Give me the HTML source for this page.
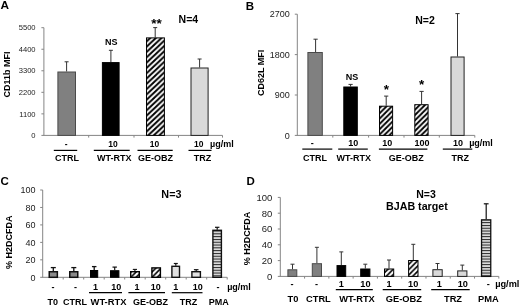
<!DOCTYPE html>
<html lang="en"><head><meta charset="utf-8"><title>Figure</title>
<style>
html,body{margin:0;padding:0;background:#fff;}
body{width:520px;height:306px;overflow:hidden;}
svg{display:block;font-family:"Liberation Sans", Arial, sans-serif;filter:blur(0.35px);}
</style></head>
<body>
<svg width="520" height="306" viewBox="0 0 520 306">
<rect width="520" height="306" fill="#fff"/>
<defs><pattern id="hA" patternUnits="userSpaceOnUse" width="5.6" height="5.3"><rect width="5.6" height="5.3" fill="#fff"/><path d="M-11.200 10.600 L5.600 -5.300 M-5.600 10.600 L11.200 -5.300 M0.000 10.600 L16.800 -5.300" stroke="#000" stroke-width="1.95"/></pattern><pattern id="hB" patternUnits="userSpaceOnUse" width="5.3" height="5.3"><rect width="5.3" height="5.3" fill="#fff"/><path d="M-10.600 10.600 L5.300 -5.300 M-5.300 10.600 L10.600 -5.300 M0.000 10.600 L15.900 -5.300" stroke="#000" stroke-width="1.9"/></pattern><pattern id="hC" patternUnits="userSpaceOnUse" width="5.3" height="5.3"><rect width="5.3" height="5.3" fill="#fff"/><path d="M-10.600 10.600 L5.300 -5.300 M-5.300 10.600 L10.600 -5.300 M0.000 10.600 L15.900 -5.300" stroke="#000" stroke-width="1.65"/></pattern>
<pattern id="hH" patternUnits="userSpaceOnUse" width="2.8" height="2.8">
<rect width="2.8" height="2.8" fill="#fff"/>
<rect y="0.8" width="2.8" height="1.3" fill="#262626"/>
</pattern>
</defs>
<text x="0.40" y="9.30" font-size="11.8" font-weight="bold" text-anchor="start" fill="#000">A</text>
<line x1="43.90" y1="27.70" x2="43.90" y2="135.40" stroke="#858585" stroke-width="1"/>
<line x1="41.40" y1="27.70" x2="43.90" y2="27.70" stroke="#858585" stroke-width="1"/>
<text x="35.60" y="30.40" font-size="7.6" font-weight="normal" text-anchor="end" fill="#222">5500</text>
<line x1="41.40" y1="49.24" x2="43.90" y2="49.24" stroke="#858585" stroke-width="1"/>
<text x="35.60" y="51.94" font-size="7.6" font-weight="normal" text-anchor="end" fill="#222">4400</text>
<line x1="41.40" y1="70.78" x2="43.90" y2="70.78" stroke="#858585" stroke-width="1"/>
<text x="35.60" y="73.48" font-size="7.6" font-weight="normal" text-anchor="end" fill="#222">3300</text>
<line x1="41.40" y1="92.32" x2="43.90" y2="92.32" stroke="#858585" stroke-width="1"/>
<text x="35.60" y="95.02" font-size="7.6" font-weight="normal" text-anchor="end" fill="#222">2200</text>
<line x1="41.40" y1="113.86" x2="43.90" y2="113.86" stroke="#858585" stroke-width="1"/>
<text x="35.60" y="116.56" font-size="7.6" font-weight="normal" text-anchor="end" fill="#222">1100</text>
<line x1="41.40" y1="135.40" x2="43.90" y2="135.40" stroke="#858585" stroke-width="1"/>
<text x="35.60" y="138.10" font-size="7.6" font-weight="normal" text-anchor="end" fill="#222">0</text>
<line x1="43.40" y1="135.40" x2="222.50" y2="135.40" stroke="#858585" stroke-width="1"/>
<line x1="88.70" y1="135.40" x2="88.70" y2="137.60" stroke="#858585" stroke-width="1"/>
<line x1="134.00" y1="135.40" x2="134.00" y2="137.60" stroke="#858585" stroke-width="1"/>
<line x1="178.50" y1="135.40" x2="178.50" y2="137.60" stroke="#858585" stroke-width="1"/>
<line x1="222.50" y1="135.40" x2="222.50" y2="137.60" stroke="#858585" stroke-width="1"/>
<text x="10.50" y="74.40" font-size="9" font-weight="bold" text-anchor="middle" fill="#000" transform="rotate(-90 10.50 74.40)">CD11b MFI</text>
<line x1="66.60" y1="61.80" x2="66.60" y2="71.50" stroke="#333" stroke-width="1"/>
<line x1="64.60" y1="61.80" x2="68.60" y2="61.80" stroke="#333" stroke-width="1"/>
<rect x="57.90" y="72.00" width="17.60" height="63.40" fill="#808080" stroke="#4a4a4a" stroke-width="1"/>
<line x1="110.90" y1="50.30" x2="110.90" y2="62.10" stroke="#333" stroke-width="1"/>
<line x1="108.90" y1="50.30" x2="112.90" y2="50.30" stroke="#333" stroke-width="1"/>
<rect x="102.40" y="62.60" width="16.70" height="72.80" fill="#000" stroke="#000" stroke-width="1"/>
<line x1="155.20" y1="27.60" x2="155.20" y2="37.40" stroke="#333" stroke-width="1"/>
<line x1="153.20" y1="27.60" x2="157.20" y2="27.60" stroke="#333" stroke-width="1"/>
<rect x="146.50" y="37.90" width="17.90" height="97.50" fill="url(#hA)" stroke="#000" stroke-width="1"/>
<line x1="199.60" y1="59.00" x2="199.60" y2="67.50" stroke="#333" stroke-width="1"/>
<line x1="197.60" y1="59.00" x2="201.60" y2="59.00" stroke="#333" stroke-width="1"/>
<rect x="191.00" y="68.00" width="17.10" height="67.40" fill="#d9d9d9" stroke="#222" stroke-width="1"/>
<text x="111.20" y="45.20" font-size="9" font-weight="bold" text-anchor="middle" fill="#000">NS</text>
<text x="156.40" y="27.70" font-size="13.5" font-weight="bold" text-anchor="middle" fill="#000">**</text>
<text x="188.40" y="23.20" font-size="10.5" font-weight="bold" text-anchor="middle" fill="#000">N=4</text>
<text x="66.20" y="146.60" font-size="8.5" font-weight="bold" text-anchor="middle" fill="#000">-</text>
<text x="113.00" y="147.00" font-size="8.5" font-weight="bold" text-anchor="middle" fill="#000">10</text>
<text x="154.60" y="147.00" font-size="8.5" font-weight="bold" text-anchor="middle" fill="#000">10</text>
<text x="198.80" y="147.00" font-size="8.5" font-weight="bold" text-anchor="middle" fill="#000">10</text>
<text x="221.80" y="147.00" font-size="9" font-weight="bold" text-anchor="middle" fill="#000">µg/ml</text>
<line x1="53.80" y1="150.40" x2="77.20" y2="150.40" stroke="#000" stroke-width="1.2"/>
<line x1="93.80" y1="150.40" x2="129.70" y2="150.40" stroke="#000" stroke-width="1.2"/>
<line x1="137.50" y1="150.40" x2="172.70" y2="150.40" stroke="#000" stroke-width="1.2"/>
<line x1="188.50" y1="150.40" x2="211.50" y2="150.40" stroke="#000" stroke-width="1.2"/>
<text x="67.00" y="160.60" font-size="9" font-weight="bold" text-anchor="middle" fill="#000">CTRL</text>
<text x="114.20" y="160.60" font-size="9" font-weight="bold" text-anchor="middle" fill="#000">WT-RTX</text>
<text x="155.50" y="160.60" font-size="9" font-weight="bold" text-anchor="middle" fill="#000">GE-OBZ</text>
<text x="202.50" y="160.60" font-size="9" font-weight="bold" text-anchor="middle" fill="#000">TRZ</text>
<text x="245.80" y="10.30" font-size="11.5" font-weight="bold" text-anchor="start" fill="#000">B</text>
<line x1="297.30" y1="14.20" x2="297.30" y2="135.40" stroke="#858585" stroke-width="1"/>
<line x1="294.80" y1="14.20" x2="297.30" y2="14.20" stroke="#858585" stroke-width="1"/>
<text x="289.80" y="17.40" font-size="9" font-weight="normal" text-anchor="end" fill="#222">2700</text>
<line x1="294.80" y1="54.60" x2="297.30" y2="54.60" stroke="#858585" stroke-width="1"/>
<text x="289.80" y="57.80" font-size="9" font-weight="normal" text-anchor="end" fill="#222">1800</text>
<line x1="294.80" y1="95.00" x2="297.30" y2="95.00" stroke="#858585" stroke-width="1"/>
<text x="289.80" y="98.20" font-size="9" font-weight="normal" text-anchor="end" fill="#222">900</text>
<line x1="294.80" y1="135.40" x2="297.30" y2="135.40" stroke="#858585" stroke-width="1"/>
<text x="289.80" y="138.60" font-size="9" font-weight="normal" text-anchor="end" fill="#222">0</text>
<line x1="296.80" y1="135.40" x2="474.80" y2="135.40" stroke="#858585" stroke-width="1"/>
<line x1="332.80" y1="135.40" x2="332.80" y2="137.60" stroke="#858585" stroke-width="1"/>
<line x1="368.60" y1="135.40" x2="368.60" y2="137.60" stroke="#858585" stroke-width="1"/>
<line x1="404.00" y1="135.40" x2="404.00" y2="137.60" stroke="#858585" stroke-width="1"/>
<line x1="439.30" y1="135.40" x2="439.30" y2="137.60" stroke="#858585" stroke-width="1"/>
<line x1="474.80" y1="135.40" x2="474.80" y2="137.60" stroke="#858585" stroke-width="1"/>
<text x="264.00" y="72.80" font-size="9" font-weight="bold" text-anchor="middle" fill="#000" transform="rotate(-90 264.00 72.80)">CD62L MFI</text>
<line x1="315.60" y1="39.20" x2="315.60" y2="52.00" stroke="#333" stroke-width="1"/>
<line x1="313.50" y1="39.20" x2="317.70" y2="39.20" stroke="#333" stroke-width="1"/>
<rect x="307.90" y="52.50" width="14.40" height="82.90" fill="#808080" stroke="#4a4a4a" stroke-width="1"/>
<line x1="350.60" y1="84.40" x2="350.60" y2="86.50" stroke="#333" stroke-width="1"/>
<line x1="348.50" y1="84.40" x2="352.70" y2="84.40" stroke="#333" stroke-width="1"/>
<rect x="343.80" y="87.00" width="13.50" height="48.40" fill="#000" stroke="#000" stroke-width="1"/>
<line x1="386.20" y1="96.10" x2="386.20" y2="105.70" stroke="#333" stroke-width="1"/>
<line x1="384.10" y1="96.10" x2="388.30" y2="96.10" stroke="#333" stroke-width="1"/>
<rect x="379.50" y="106.20" width="13.10" height="29.20" fill="url(#hB)" stroke="#000" stroke-width="1"/>
<line x1="421.60" y1="91.40" x2="421.60" y2="104.20" stroke="#333" stroke-width="1"/>
<line x1="419.50" y1="91.40" x2="423.70" y2="91.40" stroke="#333" stroke-width="1"/>
<rect x="414.80" y="104.70" width="13.30" height="30.70" fill="url(#hB)" stroke="#000" stroke-width="1"/>
<line x1="457.50" y1="13.60" x2="457.50" y2="56.50" stroke="#333" stroke-width="1"/>
<line x1="455.40" y1="13.60" x2="459.60" y2="13.60" stroke="#333" stroke-width="1"/>
<rect x="451.00" y="57.00" width="13.10" height="78.40" fill="#d9d9d9" stroke="#222" stroke-width="1"/>
<text x="351.90" y="80.30" font-size="9" font-weight="bold" text-anchor="middle" fill="#000">NS</text>
<text x="386.30" y="94.00" font-size="13.5" font-weight="bold" text-anchor="middle" fill="#000">*</text>
<text x="421.70" y="88.80" font-size="13.5" font-weight="bold" text-anchor="middle" fill="#000">*</text>
<text x="425.00" y="23.60" font-size="10.5" font-weight="bold" text-anchor="middle" fill="#000">N=2</text>
<text x="312.20" y="146.00" font-size="9" font-weight="bold" text-anchor="middle" fill="#000">-</text>
<text x="353.20" y="146.30" font-size="9" font-weight="bold" text-anchor="middle" fill="#000">10</text>
<text x="387.30" y="146.30" font-size="9" font-weight="bold" text-anchor="middle" fill="#000">10</text>
<text x="422.00" y="146.30" font-size="9" font-weight="bold" text-anchor="middle" fill="#000">100</text>
<text x="458.00" y="146.30" font-size="9" font-weight="bold" text-anchor="middle" fill="#000">10</text>
<text x="481.00" y="146.30" font-size="9" font-weight="bold" text-anchor="middle" fill="#000">µg/ml</text>
<line x1="302.30" y1="149.10" x2="332.30" y2="149.10" stroke="#000" stroke-width="1.2"/>
<line x1="338.20" y1="149.10" x2="367.80" y2="149.10" stroke="#000" stroke-width="1.2"/>
<line x1="378.90" y1="149.10" x2="427.40" y2="149.10" stroke="#000" stroke-width="1.2"/>
<line x1="442.80" y1="149.10" x2="472.30" y2="149.10" stroke="#000" stroke-width="1.2"/>
<text x="315.00" y="161.40" font-size="9" font-weight="bold" text-anchor="middle" fill="#000">CTRL</text>
<text x="353.80" y="161.40" font-size="9" font-weight="bold" text-anchor="middle" fill="#000">WT-RTX</text>
<text x="406.20" y="161.40" font-size="9" font-weight="bold" text-anchor="middle" fill="#000">GE-OBZ</text>
<text x="460.20" y="161.40" font-size="9" font-weight="bold" text-anchor="middle" fill="#000">TRZ</text>
<text x="0.60" y="184.80" font-size="11.5" font-weight="bold" text-anchor="start" fill="#000">C</text>
<line x1="42.70" y1="190.00" x2="42.70" y2="277.30" stroke="#858585" stroke-width="1"/>
<line x1="40.20" y1="190.00" x2="42.70" y2="190.00" stroke="#858585" stroke-width="1"/>
<text x="35.50" y="193.20" font-size="9" font-weight="normal" text-anchor="end" fill="#222">100</text>
<line x1="40.20" y1="207.46" x2="42.70" y2="207.46" stroke="#858585" stroke-width="1"/>
<text x="35.50" y="210.66" font-size="9" font-weight="normal" text-anchor="end" fill="#222">80</text>
<line x1="40.20" y1="224.92" x2="42.70" y2="224.92" stroke="#858585" stroke-width="1"/>
<text x="35.50" y="228.12" font-size="9" font-weight="normal" text-anchor="end" fill="#222">60</text>
<line x1="40.20" y1="242.38" x2="42.70" y2="242.38" stroke="#858585" stroke-width="1"/>
<text x="35.50" y="245.58" font-size="9" font-weight="normal" text-anchor="end" fill="#222">40</text>
<line x1="40.20" y1="259.84" x2="42.70" y2="259.84" stroke="#858585" stroke-width="1"/>
<text x="35.50" y="263.04" font-size="9" font-weight="normal" text-anchor="end" fill="#222">20</text>
<line x1="40.20" y1="277.30" x2="42.70" y2="277.30" stroke="#858585" stroke-width="1"/>
<text x="35.50" y="280.50" font-size="9" font-weight="normal" text-anchor="end" fill="#222">0</text>
<line x1="42.20" y1="277.30" x2="227.20" y2="277.30" stroke="#858585" stroke-width="1"/>
<line x1="63.20" y1="277.30" x2="63.20" y2="279.50" stroke="#858585" stroke-width="1"/>
<line x1="83.70" y1="277.30" x2="83.70" y2="279.50" stroke="#858585" stroke-width="1"/>
<line x1="104.20" y1="277.30" x2="104.20" y2="279.50" stroke="#858585" stroke-width="1"/>
<line x1="124.70" y1="277.30" x2="124.70" y2="279.50" stroke="#858585" stroke-width="1"/>
<line x1="145.20" y1="277.30" x2="145.20" y2="279.50" stroke="#858585" stroke-width="1"/>
<line x1="165.70" y1="277.30" x2="165.70" y2="279.50" stroke="#858585" stroke-width="1"/>
<line x1="186.20" y1="277.30" x2="186.20" y2="279.50" stroke="#858585" stroke-width="1"/>
<line x1="206.70" y1="277.30" x2="206.70" y2="279.50" stroke="#858585" stroke-width="1"/>
<line x1="227.20" y1="277.30" x2="227.20" y2="279.50" stroke="#858585" stroke-width="1"/>
<text x="12.00" y="242.20" font-size="9" font-weight="bold" text-anchor="middle" fill="#000" transform="rotate(-90 12.00 242.20)">% H2DCFDA</text>
<line x1="53.30" y1="267.60" x2="53.30" y2="271.00" stroke="#111" stroke-width="1.3"/>
<line x1="50.80" y1="267.60" x2="55.80" y2="267.60" stroke="#111" stroke-width="1.3"/>
<rect x="49.25" y="271.75" width="8.10" height="5.55" fill="#8a8a8a" stroke="#111" stroke-width="1.5"/>
<line x1="73.80" y1="267.60" x2="73.80" y2="271.00" stroke="#111" stroke-width="1.3"/>
<line x1="71.30" y1="267.60" x2="76.30" y2="267.60" stroke="#111" stroke-width="1.3"/>
<rect x="69.75" y="271.75" width="8.00" height="5.55" fill="#8a8a8a" stroke="#111" stroke-width="1.5"/>
<line x1="94.20" y1="266.60" x2="94.20" y2="270.00" stroke="#111" stroke-width="1.3"/>
<line x1="91.95" y1="266.60" x2="96.45" y2="266.60" stroke="#111" stroke-width="1.3"/>
<rect x="90.50" y="270.50" width="7.20" height="6.80" fill="#000" stroke="#000" stroke-width="1"/>
<line x1="114.70" y1="267.10" x2="114.70" y2="270.20" stroke="#111" stroke-width="1.2"/>
<line x1="112.50" y1="267.10" x2="116.90" y2="267.10" stroke="#111" stroke-width="1.2"/>
<rect x="110.50" y="270.70" width="8.40" height="6.60" fill="#000" stroke="#000" stroke-width="1"/>
<line x1="134.90" y1="269.40" x2="134.90" y2="271.10" stroke="#111" stroke-width="1.1"/>
<line x1="132.80" y1="269.40" x2="137.00" y2="269.40" stroke="#111" stroke-width="1.1"/>
<rect x="130.70" y="271.70" width="8.60" height="5.60" fill="url(#hC)" stroke="#000" stroke-width="1.4"/>
<rect x="151.90" y="267.90" width="8.50" height="9.40" fill="url(#hC)" stroke="#000" stroke-width="1.4"/>
<line x1="175.80" y1="263.50" x2="175.80" y2="265.80" stroke="#111" stroke-width="1.2"/>
<line x1="173.80" y1="263.50" x2="177.80" y2="263.50" stroke="#111" stroke-width="1.2"/>
<rect x="171.90" y="266.30" width="7.60" height="11.00" fill="#e0e0e0" stroke="#111" stroke-width="1.4"/>
<line x1="196.20" y1="269.70" x2="196.20" y2="271.20" stroke="#111" stroke-width="1.2"/>
<line x1="193.90" y1="269.70" x2="198.50" y2="269.70" stroke="#111" stroke-width="1.2"/>
<rect x="191.90" y="271.70" width="8.50" height="5.60" fill="#e0e0e0" stroke="#111" stroke-width="1.4"/>
<line x1="217.20" y1="227.30" x2="217.20" y2="229.80" stroke="#111" stroke-width="1.2"/>
<line x1="215.00" y1="227.30" x2="219.40" y2="227.30" stroke="#111" stroke-width="1.2"/>
<rect x="212.90" y="230.30" width="8.50" height="47.00" fill="url(#hH)" stroke="#111" stroke-width="1.4"/>
<text x="171.40" y="198.00" font-size="10.8" font-weight="bold" text-anchor="middle" fill="#000">N=3</text>
<text x="53.10" y="290.00" font-size="9" font-weight="bold" text-anchor="middle" fill="#000">-</text>
<text x="75.50" y="290.00" font-size="9" font-weight="bold" text-anchor="middle" fill="#000">-</text>
<text x="95.40" y="290.10" font-size="9" font-weight="bold" text-anchor="middle" fill="#000">1</text>
<text x="116.20" y="290.10" font-size="9" font-weight="bold" text-anchor="middle" fill="#000">10</text>
<text x="136.90" y="290.10" font-size="9" font-weight="bold" text-anchor="middle" fill="#000">1</text>
<text x="155.70" y="290.10" font-size="9" font-weight="bold" text-anchor="middle" fill="#000">10</text>
<text x="175.80" y="290.10" font-size="9" font-weight="bold" text-anchor="middle" fill="#000">1</text>
<text x="197.70" y="290.10" font-size="9" font-weight="bold" text-anchor="middle" fill="#000">10</text>
<text x="218.00" y="290.00" font-size="9" font-weight="bold" text-anchor="middle" fill="#000">-</text>
<text x="239.00" y="290.20" font-size="9" font-weight="bold" text-anchor="middle" fill="#000">µg/ml</text>
<line x1="89.00" y1="292.70" x2="122.00" y2="292.70" stroke="#000" stroke-width="1.2"/>
<line x1="128.40" y1="292.70" x2="165.00" y2="292.70" stroke="#000" stroke-width="1.2"/>
<line x1="171.80" y1="292.70" x2="202.50" y2="292.70" stroke="#000" stroke-width="1.2"/>
<text x="52.70" y="304.80" font-size="9" font-weight="bold" text-anchor="middle" fill="#000">T0</text>
<text x="74.90" y="304.80" font-size="9" font-weight="bold" text-anchor="middle" fill="#000">CTRL</text>
<text x="108.50" y="304.80" font-size="9.4" font-weight="bold" text-anchor="middle" fill="#000">WT-RTX</text>
<text x="150.60" y="304.80" font-size="9" font-weight="bold" text-anchor="middle" fill="#000">GE-OBZ</text>
<text x="188.50" y="304.80" font-size="9" font-weight="bold" text-anchor="middle" fill="#000">TRZ</text>
<text x="218.80" y="304.80" font-size="9" font-weight="bold" text-anchor="middle" fill="#000">PMA</text>
<text x="246.60" y="185.20" font-size="11.5" font-weight="bold" text-anchor="start" fill="#000">D</text>
<line x1="280.30" y1="197.40" x2="280.30" y2="276.40" stroke="#858585" stroke-width="1"/>
<line x1="277.80" y1="197.40" x2="280.30" y2="197.40" stroke="#858585" stroke-width="1"/>
<text x="272.40" y="200.80" font-size="9.5" font-weight="normal" text-anchor="end" fill="#222">100</text>
<line x1="277.80" y1="213.20" x2="280.30" y2="213.20" stroke="#858585" stroke-width="1"/>
<text x="272.40" y="216.60" font-size="9.5" font-weight="normal" text-anchor="end" fill="#222">80</text>
<line x1="277.80" y1="229.00" x2="280.30" y2="229.00" stroke="#858585" stroke-width="1"/>
<text x="272.40" y="232.40" font-size="9.5" font-weight="normal" text-anchor="end" fill="#222">60</text>
<line x1="277.80" y1="244.80" x2="280.30" y2="244.80" stroke="#858585" stroke-width="1"/>
<text x="272.40" y="248.20" font-size="9.5" font-weight="normal" text-anchor="end" fill="#222">40</text>
<line x1="277.80" y1="260.60" x2="280.30" y2="260.60" stroke="#858585" stroke-width="1"/>
<text x="272.40" y="264.00" font-size="9.5" font-weight="normal" text-anchor="end" fill="#222">20</text>
<line x1="277.80" y1="276.40" x2="280.30" y2="276.40" stroke="#858585" stroke-width="1"/>
<text x="272.40" y="279.80" font-size="9.5" font-weight="normal" text-anchor="end" fill="#222">0</text>
<line x1="279.80" y1="276.40" x2="498.80" y2="276.40" stroke="#858585" stroke-width="1"/>
<line x1="304.58" y1="276.40" x2="304.58" y2="278.60" stroke="#858585" stroke-width="1"/>
<line x1="328.86" y1="276.40" x2="328.86" y2="278.60" stroke="#858585" stroke-width="1"/>
<line x1="353.14" y1="276.40" x2="353.14" y2="278.60" stroke="#858585" stroke-width="1"/>
<line x1="377.42" y1="276.40" x2="377.42" y2="278.60" stroke="#858585" stroke-width="1"/>
<line x1="401.70" y1="276.40" x2="401.70" y2="278.60" stroke="#858585" stroke-width="1"/>
<line x1="425.98" y1="276.40" x2="425.98" y2="278.60" stroke="#858585" stroke-width="1"/>
<line x1="450.26" y1="276.40" x2="450.26" y2="278.60" stroke="#858585" stroke-width="1"/>
<line x1="474.54" y1="276.40" x2="474.54" y2="278.60" stroke="#858585" stroke-width="1"/>
<line x1="498.82" y1="276.40" x2="498.82" y2="278.60" stroke="#858585" stroke-width="1"/>
<text x="249.60" y="238.50" font-size="9" font-weight="bold" text-anchor="middle" fill="#000" transform="rotate(-90 249.60 238.50)">% H2DCFDA</text>
<line x1="292.50" y1="264.20" x2="292.50" y2="269.30" stroke="#333" stroke-width="1"/>
<line x1="290.50" y1="264.20" x2="294.50" y2="264.20" stroke="#333" stroke-width="1"/>
<rect x="287.90" y="269.80" width="8.90" height="6.60" fill="#808080" stroke="#4a4a4a" stroke-width="1"/>
<line x1="316.90" y1="247.30" x2="316.90" y2="263.20" stroke="#333" stroke-width="1"/>
<line x1="314.90" y1="247.30" x2="318.90" y2="247.30" stroke="#333" stroke-width="1"/>
<rect x="312.30" y="263.70" width="9.20" height="12.70" fill="#808080" stroke="#4a4a4a" stroke-width="1"/>
<line x1="341.30" y1="251.90" x2="341.30" y2="265.10" stroke="#333" stroke-width="1"/>
<line x1="339.30" y1="251.90" x2="343.30" y2="251.90" stroke="#333" stroke-width="1"/>
<rect x="337.00" y="265.60" width="8.70" height="10.80" fill="#000" stroke="#000" stroke-width="1"/>
<line x1="365.30" y1="264.20" x2="365.30" y2="268.50" stroke="#333" stroke-width="1"/>
<line x1="363.30" y1="264.20" x2="367.30" y2="264.20" stroke="#333" stroke-width="1"/>
<rect x="360.70" y="269.00" width="9.20" height="7.40" fill="#000" stroke="#000" stroke-width="1"/>
<line x1="389.00" y1="260.00" x2="389.00" y2="268.50" stroke="#333" stroke-width="1"/>
<line x1="387.00" y1="260.00" x2="391.00" y2="260.00" stroke="#333" stroke-width="1"/>
<rect x="384.50" y="269.00" width="9.20" height="7.40" fill="url(#hC)" stroke="#000" stroke-width="1"/>
<line x1="413.30" y1="244.30" x2="413.30" y2="260.00" stroke="#333" stroke-width="1"/>
<line x1="411.30" y1="244.30" x2="415.30" y2="244.30" stroke="#333" stroke-width="1"/>
<rect x="408.60" y="260.50" width="9.40" height="15.90" fill="url(#hC)" stroke="#000" stroke-width="1"/>
<line x1="437.50" y1="263.50" x2="437.50" y2="269.20" stroke="#333" stroke-width="1"/>
<line x1="435.50" y1="263.50" x2="439.50" y2="263.50" stroke="#333" stroke-width="1"/>
<rect x="432.90" y="269.70" width="9.30" height="6.70" fill="#d9d9d9" stroke="#222" stroke-width="1"/>
<line x1="462.30" y1="265.10" x2="462.30" y2="270.40" stroke="#333" stroke-width="1"/>
<line x1="460.30" y1="265.10" x2="464.30" y2="265.10" stroke="#333" stroke-width="1"/>
<rect x="457.70" y="270.90" width="9.20" height="5.50" fill="#d9d9d9" stroke="#222" stroke-width="1"/>
<line x1="486.20" y1="203.80" x2="486.20" y2="219.20" stroke="#111" stroke-width="1.2"/>
<line x1="483.80" y1="203.80" x2="488.60" y2="203.80" stroke="#111" stroke-width="1.2"/>
<rect x="481.55" y="219.85" width="9.20" height="56.55" fill="url(#hH)" stroke="#111" stroke-width="1.3"/>
<text x="426.00" y="197.80" font-size="10.5" font-weight="bold" text-anchor="middle" fill="#000">N=3</text>
<text x="416.90" y="210.00" font-size="10.7" font-weight="bold" text-anchor="middle" fill="#000">BJAB target</text>
<text x="292.00" y="287.00" font-size="9.2" font-weight="bold" text-anchor="middle" fill="#000">-</text>
<text x="316.50" y="287.00" font-size="9.2" font-weight="bold" text-anchor="middle" fill="#000">-</text>
<text x="341.20" y="287.20" font-size="9.2" font-weight="bold" text-anchor="middle" fill="#000">1</text>
<text x="365.40" y="287.20" font-size="9.2" font-weight="bold" text-anchor="middle" fill="#000">10</text>
<text x="389.00" y="287.20" font-size="9.2" font-weight="bold" text-anchor="middle" fill="#000">1</text>
<text x="413.20" y="287.20" font-size="9.2" font-weight="bold" text-anchor="middle" fill="#000">10</text>
<text x="439.20" y="287.20" font-size="9.2" font-weight="bold" text-anchor="middle" fill="#000">1</text>
<text x="462.80" y="287.20" font-size="9.2" font-weight="bold" text-anchor="middle" fill="#000">10</text>
<text x="488.40" y="287.00" font-size="9.2" font-weight="bold" text-anchor="middle" fill="#000">-</text>
<text x="495.20" y="287.30" font-size="9.2" font-weight="bold" text-anchor="start" fill="#000">µg/ml</text>
<line x1="335.80" y1="289.70" x2="372.80" y2="289.70" stroke="#000" stroke-width="1.2"/>
<line x1="382.70" y1="289.70" x2="421.20" y2="289.70" stroke="#000" stroke-width="1.2"/>
<line x1="431.20" y1="289.70" x2="469.70" y2="289.70" stroke="#000" stroke-width="1.2"/>
<text x="293.00" y="302.10" font-size="9.3" font-weight="bold" text-anchor="middle" fill="#000">T0</text>
<text x="318.40" y="302.10" font-size="9.3" font-weight="bold" text-anchor="middle" fill="#000">CTRL</text>
<text x="357.00" y="302.10" font-size="9.3" font-weight="bold" text-anchor="middle" fill="#000">WT-RTX</text>
<text x="403.80" y="302.10" font-size="9.3" font-weight="bold" text-anchor="middle" fill="#000">GE-OBZ</text>
<text x="453.00" y="302.10" font-size="9.3" font-weight="bold" text-anchor="middle" fill="#000">TRZ</text>
<text x="488.30" y="302.10" font-size="9.3" font-weight="bold" text-anchor="middle" fill="#000">PMA</text>
</svg>
</body></html>
